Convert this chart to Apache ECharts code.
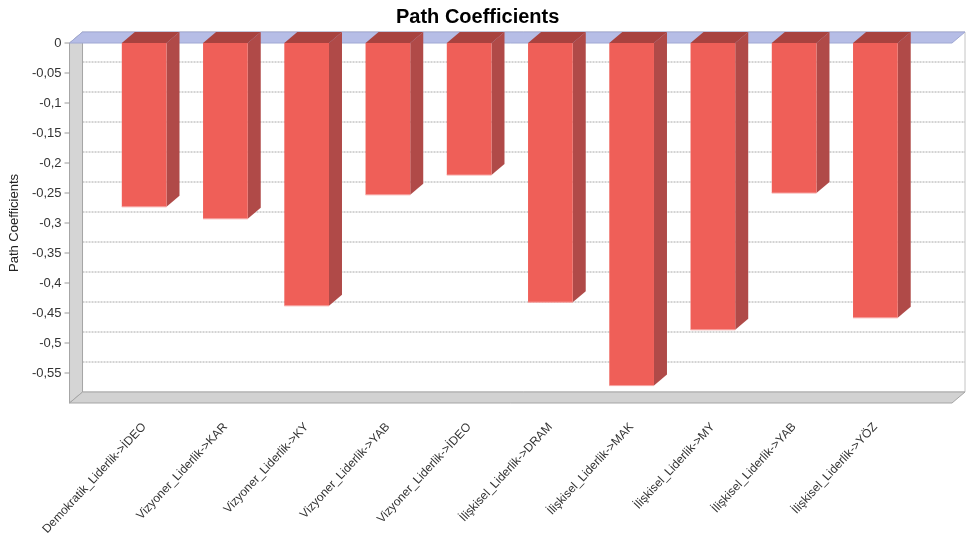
<!DOCTYPE html>
<html>
<head>
<meta charset="utf-8">
<title>Path Coefficients</title>
<script src="https://cdn.jsdelivr.net/npm/echarts@6/dist/echarts.min.js"></script>
<style>
  html, body { margin: 0; padding: 0; background: #ffffff; }
  #chart { width: 968px; height: 543px; }
</style>
</head>
<body>
<div id="chart"></div>
<script>
// Path relations and their estimated coefficients
const categories = [
  'Demokratik_Liderlik->İDEO',
  'Vizyoner_Liderlik->KAR',
  'Vizyoner_Liderlik->KY',
  'Vizyoner_Liderlik->YAB',
  'Vizyoner_Liderlik->İDEO',
  'İlişkisel_Liderlik->DRAM',
  'İlişkisel_Liderlik->MAK',
  'İlişkisel_Liderlik->MY',
  'İlişkisel_Liderlik->YAB',
  'İlişkisel_Liderlik->YÖZ'
];
const coefficients = [-0.273, -0.293, -0.438, -0.253, -0.220, -0.432, -0.571, -0.478, -0.250, -0.458];

// Value axis range and the tick values drawn on the back wall
const axisMin = -0.6;
const axisMax = 0;
const axisStep = 0.05;
const tickValues = [0, -0.05, -0.1, -0.15, -0.2, -0.25, -0.3, -0.35, -0.4, -0.45, -0.5, -0.55];

// 3D look: depth offset of the back plane and the frame margins beyond the bar bands
const DEPTH_X = 13;
const DEPTH_Y = 11;
const FRAME_PAD_LEFT = 34;
const FRAME_PAD_RIGHT = 36;

const FONT = 'Liberation Sans, Arial, sans-serif';

const chart = echarts.init(document.getElementById('chart'), null, { renderer: 'canvas' });

function fmtTick(v) {
  const r = Math.round(v * 100) / 100;
  if (Math.abs(r - axisMin) < 1e-9) return '';
  return String(r === 0 ? 0 : r).replace('.', ',');
}

// Walls, floor, top slab, back-wall grid lines and tick marks
function renderFrame(params, api) {
  const cs = params.coordSys;
  const fl = cs.x - FRAME_PAD_LEFT;
  const fr = cs.x + cs.width + FRAME_PAD_RIGHT;
  const yTop = api.coord([0, axisMax])[1];
  const yBot = api.coord([0, axisMin])[1];
  const v = api.value(0);
  const y = api.coord([0, v])[1];
  const children = [];

  if (params.dataIndex === 0) {
    // back wall
    children.push({
      type: 'polygon',
      shape: { points: [[fl + DEPTH_X, yTop - DEPTH_Y], [fr + DEPTH_X, yTop - DEPTH_Y], [fr + DEPTH_X, yBot - DEPTH_Y], [fl + DEPTH_X, yBot - DEPTH_Y]] },
      style: { fill: '#ffffff', stroke: '#c4c4c4', lineWidth: 1 },
      z2: 0
    });
    // left wall
    children.push({
      type: 'polygon',
      shape: { points: [[fl, yTop], [fl + DEPTH_X, yTop - DEPTH_Y], [fl + DEPTH_X, yBot - DEPTH_Y], [fl, yBot]] },
      style: { fill: '#d5d5d5', stroke: '#a5a5a5', lineWidth: 1 },
      z2: 2
    });
    // floor
    children.push({
      type: 'polygon',
      shape: { points: [[fl, yBot], [fl + DEPTH_X, yBot - DEPTH_Y], [fr + DEPTH_X, yBot - DEPTH_Y], [fr, yBot]] },
      style: { fill: '#d2d2d2', stroke: '#a5a5a5', lineWidth: 1 },
      z2: 3
    });
    // zero-level slab at the top
    children.push({
      type: 'polygon',
      shape: { points: [[fl, yTop], [fl + DEPTH_X, yTop - DEPTH_Y], [fr + DEPTH_X, yTop - DEPTH_Y], [fr, yTop]] },
      style: { fill: '#b6bde6', stroke: '#a0a8d4', lineWidth: 1 },
      z2: 3
    });
  }

  if (v !== 0) {
    children.push({
      type: 'line',
      shape: { x1: fl + DEPTH_X, y1: y - DEPTH_Y, x2: fr + DEPTH_X, y2: y - DEPTH_Y },
      style: { stroke: '#a8a8a8', lineWidth: 1, lineDash: [2, 1] },
      z2: 1
    });
  }
  children.push({
    type: 'line',
    shape: { x1: fl - 5, y1: y, x2: fl, y2: y },
    style: { stroke: '#9a9a9a', lineWidth: 1 },
    z2: 4
  });

  return { type: 'group', children: children };
}

// Box-shaped bars hanging from the zero level
function renderBar(params, api) {
  const idx = api.value(0);
  const val = api.value(1);
  const p0 = api.coord([idx, 0]);
  const p1 = api.coord([idx, val]);
  const w = api.size([1, 0])[0] * 0.55;
  const xl = p0[0] - w / 2;
  const xr = p0[0] + w / 2;
  const y0 = p0[1];
  const y1 = p1[1];
  return {
    type: 'group',
    children: [
      {
        type: 'polygon',
        shape: { points: [[xr, y0], [xr + DEPTH_X, y0 - DEPTH_Y], [xr + DEPTH_X, y1 - DEPTH_Y], [xr, y1]] },
        style: { fill: '#b04a48' }
      },
      {
        type: 'polygon',
        shape: { points: [[xl, y0], [xl + DEPTH_X, y0 - DEPTH_Y], [xr + DEPTH_X, y0 - DEPTH_Y], [xr, y0]] },
        style: { fill: '#a8423f' }
      },
      {
        type: 'rect',
        shape: { x: xl, y: y0, width: w, height: y1 - y0 },
        style: { fill: '#ef5f58' }
      },
      {
        type: 'line',
        shape: { x1: xl, y1: y1, x2: xr, y2: y1 },
        style: { stroke: '#f6a3a0', lineWidth: 1 }
      }
    ]
  };
}

const option = {
  animation: false,
  backgroundColor: '#ffffff',
  title: {
    text: 'Path Coefficients',
    left: 391,
    top: 2,
    textStyle: { fontFamily: FONT, fontSize: 20, fontWeight: 'bold', color: '#000000' }
  },
  grid: { left: 96, right: 52, top: 43, bottom: 140, containLabel: false },
  xAxis: {
    type: 'category',
    data: categories,
    position: 'bottom',
    axisLine: { show: false },
    axisTick: { show: false },
    splitLine: { show: false },
    axisLabel: {
      rotate: 47,
      margin: 22,
      interval: 0,
      fontFamily: FONT,
      fontSize: 12,
      color: '#333333'
    }
  },
  yAxis: {
    type: 'value',
    min: axisMin,
    max: axisMax,
    interval: axisStep,
    name: 'Path Coefficients',
    nameLocation: 'middle',
    nameRotate: 90,
    nameGap: 82,
    nameTextStyle: { fontFamily: FONT, fontSize: 13, color: '#222222' },
    axisLine: { show: false },
    axisTick: { show: false },
    splitLine: { show: false },
    axisLabel: {
      margin: 42,
      formatter: fmtTick,
      fontFamily: FONT,
      fontSize: 13,
      color: '#333333'
    }
  },
  series: [
    {
      type: 'custom',
      name: 'frame',
      renderItem: renderFrame,
      data: tickValues.map(function (v) { return [v]; }),
      encode: { y: 0 },
      silent: true,
      z: 1
    },
    {
      type: 'custom',
      name: 'Path Coefficients',
      renderItem: renderBar,
      data: coefficients.map(function (v, i) { return [i, v]; }),
      encode: { x: 0, y: 1 },
      z: 2
    }
  ]
};

chart.setOption(option);
</script>
</body>
</html>
